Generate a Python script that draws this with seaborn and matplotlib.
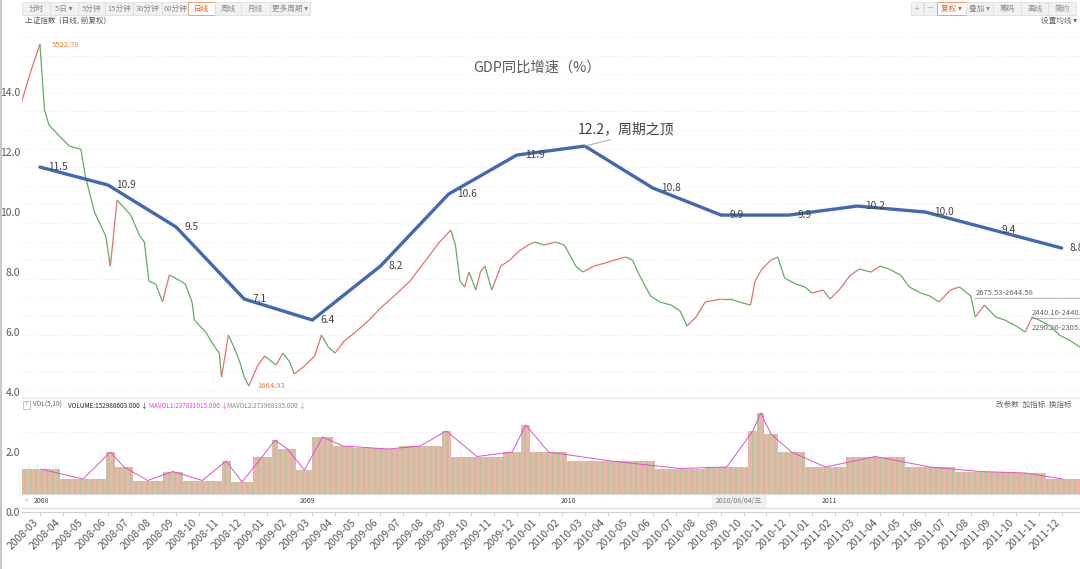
import numpy as np
import pandas as pd
import matplotlib
matplotlib.use('Agg')
import matplotlib.pyplot as plt
import seaborn as sns
from matplotlib.collections import LineCollection
from matplotlib.patches import Rectangle
from matplotlib.lines import Line2D
from matplotlib.transforms import ScaledTranslation

# month tick labels (x axis)
months = list(pd.period_range('2008-03', '2011-12', freq='M').strftime('%Y-%m'))

# quarterly GDP growth (%)
quarters = ['2008-03', '2008-06', '2008-09', '2008-12', '2009-03', '2009-06',
            '2009-09', '2009-12', '2010-03', '2010-06', '2010-09', '2010-12',
            '2011-03', '2011-06', '2011-09', '2011-12']
gdp = [11.5, 10.9, 9.5, 7.1, 6.4, 8.2, 10.6, 11.9, 12.2, 10.8, 9.9, 9.9,
       10.2, 10.0, 9.4, 8.8]

# background index path (in chart units)
price_t = [-0.8, -0.4, 0.0, 0.2, 0.4, 0.9, 1.3, 1.8, 2.0, 2.4, 2.9, 3.1, 3.4,
           4.0, 4.4, 4.6, 4.8, 5.1, 5.4, 5.7, 6.2, 6.4, 6.7, 6.8, 7.3, 7.7,
           7.9, 8.0, 8.3, 8.6, 8.8, 9.0, 9.2, 9.6, 9.9, 10.4, 10.7, 11.0,
           11.2, 11.7, 12.1, 12.4, 12.7, 13.0, 13.4, 13.9, 14.5, 15.0, 15.6,
           16.3, 17.0, 17.6, 18.1, 18.3, 18.5, 18.7, 18.9, 19.2, 19.4, 19.6,
           19.9, 20.3, 20.7, 21.1, 21.5, 21.8, 22.2, 22.7, 23.1, 23.6, 23.9,
           24.4, 24.9, 25.3, 25.8, 26.1, 26.4, 26.9, 27.3, 27.8, 28.2, 28.5,
           28.9, 29.3, 30.0, 30.4, 30.8, 31.3, 31.5, 31.8, 32.2, 32.5, 32.8,
           33.3, 33.7, 34.0, 34.5, 34.8, 35.2, 35.7, 36.1, 36.6, 37.0, 37.4,
           37.9, 38.3, 38.8, 39.2, 39.6, 40.1, 40.5, 41.0, 41.2, 41.6, 42.1,
           42.5, 43.0, 43.4, 43.7, 44.0, 44.5, 44.9, 45.4, 45.8]
price_v = [13.7, 14.7, 15.6, 13.4, 12.9, 12.5, 12.2, 12.1, 11.2, 10.0, 9.2,
           8.2, 10.4, 9.9, 9.2, 9.0, 7.7, 7.6, 7.0, 7.9, 7.7, 7.6, 7.0, 6.4,
           6.0, 5.5, 5.3, 4.5, 5.9, 5.4, 5.0, 4.5, 4.2, 4.9, 5.2, 4.9, 5.3,
           5.0, 4.6, 4.9, 5.2, 5.9, 5.5, 5.3, 5.7, 6.0, 6.4, 6.8, 7.2, 7.7,
           8.4, 9.0, 9.4, 8.9, 7.7, 7.5, 8.0, 7.4, 8.0, 8.2, 7.4, 8.2, 8.4,
           8.7, 8.9, 9.0, 8.9, 9.0, 8.9, 8.2, 8.0, 8.2, 8.3, 8.4, 8.5, 8.4,
           7.9, 7.2, 7.0, 6.9, 6.7, 6.2, 6.5, 7.0, 7.1, 7.1, 7.0, 6.9, 7.7,
           8.1, 8.4, 8.5, 7.8, 7.6, 7.5, 7.3, 7.4, 7.1, 7.4, 7.9, 8.1, 8.0,
           8.2, 8.1, 7.9, 7.5, 7.3, 7.2, 7.0, 7.4, 7.5, 7.2, 6.5, 6.9, 6.5,
           6.4, 6.2, 6.0, 6.5, 6.4, 6.2, 5.9, 5.7, 5.5]

# background volume blocks (start month, top level)
vol_t = [-0.8, 0.9, 2.9, 3.3, 4.1, 5.4, 6.3, 8.0, 8.4, 9.4, 10.2, 10.5, 11.3,
         12.0, 12.9, 13.8, 14.9, 15.8, 17.7, 18.1, 20.4, 21.2, 21.6, 23.2,
         27.1, 29.3, 31.2, 31.6, 31.9, 32.5, 33.7, 35.5, 38.1, 40.3, 42.5,
         44.3]
vol_v = [1.43, 1.1, 2.0, 1.5, 1.05, 1.35, 1.05, 1.7, 1.0, 1.85, 2.4, 2.1, 1.4,
         2.5, 2.2, 2.15, 2.1, 2.2, 2.7, 1.85, 2.0, 2.9, 2.0, 1.7, 1.45, 1.5,
         2.7, 3.3, 2.6, 2.0, 1.5, 1.85, 1.5, 1.35, 1.3, 1.1]
vol_base = 0.6

sns.set_theme(style='white')
plt.rcParams['font.family'] = ['Noto Sans CJK SC', 'DejaVu Sans']
plt.rcParams['hatch.linewidth'] = 1.2
plt.rcParams['hatch.color'] = '#9fd09a'

W, H = 1080, 569
fig = plt.figure(figsize=(W / 100, H / 100), dpi=100)
ax = fig.add_axes([22 / W, (H - 512) / H, 1058 / W, 512 / H])
ax.set_facecolor('none')


def fx(px):
    return px / W


def fy(py):
    return 1 - py / H


def ftext(px, py, s, **kw):
    kw.setdefault('fontsize', 5.5)
    kw.setdefault('color', '#6a6a6a')
    kw.setdefault('va', 'center')
    fig.text(fx(px), fy(py), s, **kw)


def frect(x0, y0, x1, y1, fc, ec):
    fig.patches.append(Rectangle((fx(x0), fy(y1)), (x1 - x0) / W, (y1 - y0) / H,
                                 transform=fig.transFigure, facecolor=fc,
                                 edgecolor=ec, linewidth=0.6, zorder=0.5))


def fline(x0, x1, y, color='#d8d8d8', ls='-', lw=0.8):
    # drawn inside the axes so it stays under the data
    ax.add_line(Line2D([fx(x0), fx(x1)], [fy(y), fy(y)], color=color,
                       ls=ls, lw=lw, zorder=0.5, transform=fig.transFigure,
                       clip_on=False))


# ---- screenshot chrome ----
fig.add_artist(Line2D([fx(1), fx(1)], [0, 1], color='#c8c8c8', lw=1.5))
left_btns = [(22, 50, '分时'), (50, 78, '5日 ▾'), (78, 105, '5分钟'),
             (105, 133, '15分钟'), (133, 162, '30分钟'), (162, 188, '60分钟'),
             (188, 215, '日线'), (215, 241, '周线'), (241, 270, '月线'),
             (270, 310, '更多周期 ▾')]
right_btns = [(911, 923, '+'), (924, 937, '—'), (937, 966, '复权 ▾'),
              (966, 993, '叠加 ▾'), (993, 1021, '筹码'), (1021, 1048, '画线'),
              (1048, 1076, '简约')]
for x0, x1, s in left_btns + right_btns:
    hot = s in ('日线', '复权 ▾')
    frect(x0, 2, x1, 15, 'white' if hot else '#f1f1f1',
          '#f0905a' if hot else '#dedede')
    ftext((x0 + x1) / 2, 8.5, s, ha='center',
          color='#e0602a' if hot else '#8a8a8a')
ftext(25, 21, '上证指数  (日线, 前复权)', color='#555555')
ftext(1077, 21, '设置均线 ▾', ha='right', color='#666666')

# grid lines of the screenshot
for gy in np.arange(37, 395, 18.6):
    fline(22, 1080, gy, color='#ececec', ls=(0, (1, 2)), lw=0.7)
fline(22, 1080, 398, color='#e4e4e4', lw=1.0)
fline(22, 1080, 432, color='#ececec', ls=(0, (1, 2)), lw=0.7)
fline(22, 1080, 494, color='#dddddd', lw=0.8)
fline(22, 1080, 508, color='#dddddd', lw=0.8)

# volume header
frect(23, 401, 30, 409, 'white', '#bbbbbb')
ftext(26.5, 405, '?', fontsize=4.2, color='#999999', ha='center')
ftext(33, 405, 'VOL(5,10)', fontsize=4.6, color='#666666')
ftext(68, 405, 'VOLUME:152988603.000 ↓', fontsize=4.6, color='#222222')
ftext(149, 405, 'MAVOL1:237831015.000 ↓', fontsize=4.6, color='#e040e0')
ftext(227, 405, 'MAVOL2:273968185.000 ↓', fontsize=4.6, color='#888888')
ftext(1072, 405, '改参数  加指标  换指标', ha='right', color='#666666')

# date strip
ftext(25, 501, '«', color='#aaaaaa')
ftext(34, 501, '2008', color='#444444', fontsize=5)
ftext(300, 501, '2009', color='#444444', fontsize=5)
ftext(561, 501, '2010', color='#444444', fontsize=5)
frect(712, 495, 766, 507, '#f0f0f0', '#f0f0f0')
ftext(739, 501, '2010/08/04/三', ha='center', color='#777777', fontsize=5)
ftext(822, 501, '2011', color='#444444', fontsize=5)

# price markers
ftext(52, 45, '5522.78', color='#f07f35')
ftext(257, 386, '1664.93', color='#f07f35')
fline(975, 1080, 298, color='#bbbbbb', lw=0.8)
ftext(976, 293, '2675.53-2644.58', color='#666666')
fline(1032, 1080, 318, color='#bbbbbb', lw=0.8)
ftext(1032, 313, '2440.16-2440.5', color='#666666')
ftext(1032, 328, '2290.26-2305.6', color='#666666')

# ---- background index path, red up / green down ----
pts = np.column_stack([price_t, price_v])
segs = np.stack([pts[:-1], pts[1:]], axis=1)
cols = ['#e6706a' if b >= a else '#5fae62' for a, b in zip(price_v[:-1], price_v[1:])]
ax.add_collection(LineCollection(segs, colors=cols, linewidths=0.9, zorder=1))

# ---- background volume ----
vol_end = vol_t[1:] + [45.8]
widths = [e - s for s, e in zip(vol_t, vol_end)]
ax.bar(vol_t, [v - vol_base for v in vol_v], width=widths, bottom=vol_base,
       align='edge', color='#f0b3aa', edgecolor='#9fd09a', linewidth=0,
       hatch='|||', zorder=1)
mids = [s + w / 2 for s, w in zip(vol_t, widths)]
ax.plot(mids, vol_v, color='#e050d0', lw=0.7, zorder=1.5)

# ---- GDP line ----
xq = [months.index(q) for q in quarters]
df = pd.DataFrame({'x': xq, 'gdp': gdp})
sns.lineplot(data=df, x='x', y='gdp', ax=ax, color='#4169b2', lw=2.4,
             zorder=3)

for x, v in zip(xq, gdp):
    if v == max(gdp):
        continue
    ax.annotate(f'{v:.1f}', (x, v), xytext=(6, 0), textcoords='offset points',
                ha='left', va='center', fontsize=7.3, color='#404040',
                zorder=4, annotation_clip=False)

peak = gdp.index(max(gdp))
ax.annotate(f'{gdp[peak]:.1f}，周期之顶', (xq[peak], gdp[peak]),
            xytext=(25.8, 12.77), textcoords='data', ha='center', va='center',
            fontsize=10, color='#404040', zorder=4,
            arrowprops=dict(arrowstyle='-', color='#a6a6a6', lw=0.7,
                            relpos=(0.5, 0.0), shrinkA=1, shrinkB=0))

fig.text(0.497, fy(68), 'GDP同比增速（%）', ha='center', va='center',
         fontsize=10.3, color='#595959')

# ---- axes ----
ax.set_xlim(-0.79, 45.81)
ax.set_ylim(0, 17.07)
ax.set_xticks(range(len(months)))
ax.set_xticklabels(months, rotation=45, ha='right', fontsize=7.5,
                   color='#595959')
shift = ScaledTranslation(4 / 100, 0, fig.dpi_scale_trans)
for lbl in ax.get_xticklabels():
    lbl.set_transform(lbl.get_transform() + shift)
ax.set_yticks(np.arange(0, 15, 2))
ax.set_yticklabels([f'{t:.1f}' for t in np.arange(0, 15, 2)], fontsize=7.5,
                   color='#595959')
ax.tick_params(axis='x', length=3, width=0.6, color='#c8c8c8', pad=1,
               bottom=True)
ax.tick_params(axis='y', length=0, pad=1.5)
ax.set_xlabel('')
ax.set_ylabel('')
for side in ('left', 'top', 'right'):
    ax.spines[side].set_visible(False)
ax.spines['bottom'].set_color('#d0d0d0')
ax.spines['bottom'].set_linewidth(0.8)

fig.savefig('out.png', dpi=100, facecolor='white')
